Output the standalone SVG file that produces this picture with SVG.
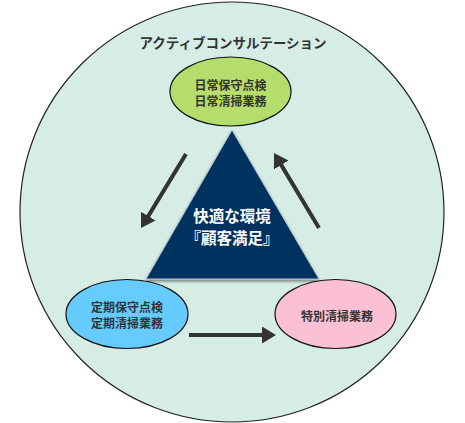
<svg xmlns="http://www.w3.org/2000/svg" width="465" height="423" viewBox="0 0 465 423">
<style>
.lbl{font-family:"Noto Sans CJK JP","Noto Sans",sans-serif;font-weight:bold;fill:#333;text-anchor:middle;dominant-baseline:central}
.node{stroke:#111;stroke-width:1.2}
.arr{stroke:#333;stroke-width:4;fill:none;marker-end:url(#ah)}
</style>
<defs>
<marker id="ah" markerUnits="userSpaceOnUse" markerWidth="14" markerHeight="17" refX="10" refY="8.5" orient="auto" viewBox="0 0 14 17">
<path d="M0,0 L14,8.5 L0,17 z" fill="#333"/>
</marker>
<filter id="sh" x="-10%" y="-10%" width="120%" height="125%">
<feDropShadow dx="0" dy="2" stdDeviation="1.5" flood-color="#000" flood-opacity="0.45"/>
</filter>
</defs>
<g id="outer">
<ellipse cx="232" cy="212" rx="212" ry="210" fill="#d6ede6" stroke="#222" stroke-width="1.2"/>
<text class="lbl" x="233" y="42" font-size="13.5">アクティブコンサルテーション</text>
</g>
<g id="center">
<polygon points="232,130 146,279 319,279" fill="#00305f" stroke="#b8c4cc" stroke-width="1" filter="url(#sh)"/>
<text class="lbl" x="232" y="215" font-size="15.5" style="fill:#fff">快適な環境</text>
<text class="lbl" x="232" y="237" font-size="15.5" style="fill:#fff">『顧客満足』</text>
</g>
<g id="daily">
<ellipse class="node" cx="230.5" cy="91.5" rx="60.5" ry="34.5" fill="#b5dd6c"/>
<text class="lbl" x="230.5" y="84" font-size="12">日常保守点検</text>
<text class="lbl" x="230.5" y="100" font-size="12">日常清掃業務</text>
</g>
<g id="periodic">
<ellipse class="node" cx="127" cy="314" rx="61" ry="34.5" fill="#66ccff"/>
<text class="lbl" x="127" y="306.5" font-size="12">定期保守点検</text>
<text class="lbl" x="127" y="322" font-size="12">定期清掃業務</text>
</g>
<g id="special">
<ellipse class="node" cx="335.5" cy="314" rx="60.5" ry="34.5" fill="#fbc0d3"/>
<text class="lbl" x="337" y="315.5" font-size="12">特別清掃業務</text>
</g>
<g id="connectors">
<path class="arr" d="M186,154 L143.1,224.6"/>
<path class="arr" d="M319,228 L276.1,156.4"/>
<path class="arr" d="M189,335 L272,335"/>
</g>
</svg>
